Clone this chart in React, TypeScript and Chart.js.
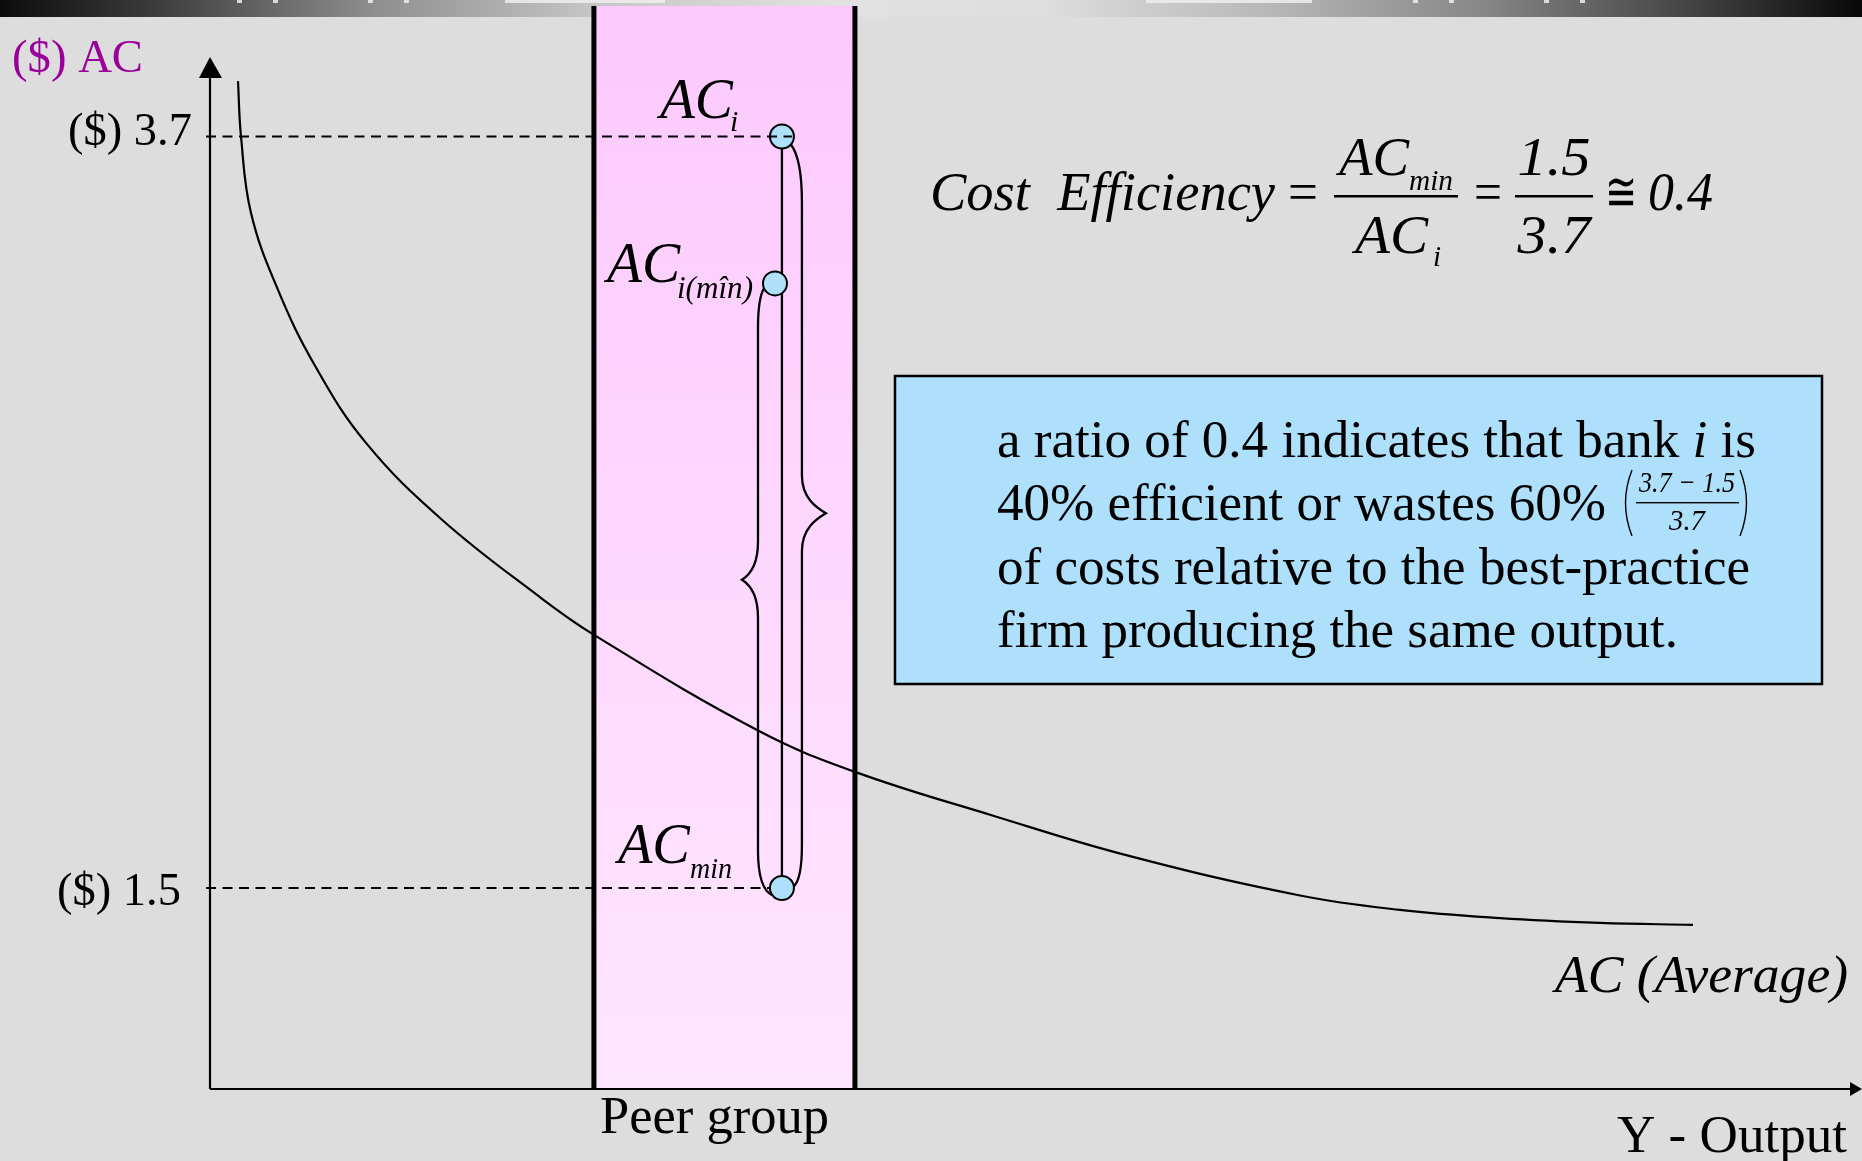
import React, { useEffect, useRef } from 'react';
import { Chart, registerables } from 'chart.js';

Chart.register(...registerables);

// ---- data ----
const outputX = [1.695, 1.877, 2.482, 4.116, 6.356, 9.443, 14.044, 19.794, 23.245, 33.172, 39.044, 47.458, 55.63, 65.981, 72.034, 78.087, 84.14, 89.77];
const averageCost = [3.862, 3.7, 3.476, 3.251, 3.029, 2.803, 2.578, 2.358, 2.241, 1.961, 1.84, 1.711, 1.594, 1.478, 1.436, 1.412, 1.398, 1.392];
const bankMain = ['AC', 'AC', 'AC'];
const bankSub = ['i', 'i(m\u00een)', 'min'];
const bankX = [34.62, 34.2, 34.62];
const bankCost = [3.7, 3.27, 1.5];
const peerGroup = [23.24, 39.04];
const yTickValues = [3.7, 1.5];
const yTickLabels = ['($) 3.7', '($) 1.5'];
const efficiencyRatio = 0.4;

const X_MIN = 0;
const X_MAX = 100;
const Y_MIN = 0.9116;
const Y_MAX = 3.9327;

const SERIF = '"Liberation Serif", "Times New Roman", Times, serif';
const font = (size: number, italic = false) => `${italic ? 'italic ' : ''}${size}px ${SERIF}`;

type Run = { t: string; f: string };

function drawFit(ctx: CanvasRenderingContext2D, runs: Run[], x: number, y: number, targetW: number | null, align: 'left' | 'right' | 'center' = 'left', color = '#000') {
  let w = 0;
  for (const r of runs) {
    ctx.font = r.f;
    w += ctx.measureText(r.t).width;
  }
  const s = targetW ? targetW / w : 1;
  const tw = w * s;
  const sx = align === 'left' ? x : align === 'right' ? x - tw : x - tw / 2;
  ctx.save();
  ctx.translate(sx, y);
  ctx.scale(s, 1);
  ctx.fillStyle = color;
  ctx.textAlign = 'left';
  ctx.textBaseline = 'alphabetic';
  let cx = 0;
  for (const r of runs) {
    ctx.font = r.f;
    ctx.fillText(r.t, cx, 0);
    cx += ctx.measureText(r.t).width;
  }
  ctx.restore();
}

function brace(ctx: CanvasRenderingContext2D, topX: number, topY: number, botX: number, botY: number, sx: number, tx: number, ym: number, rTop: number, rBot: number) {
  const dir = Math.sign(tx - sx);
  ctx.beginPath();
  ctx.moveTo(topX, topY);
  ctx.quadraticCurveTo(sx, topY + rTop * 0.25, sx, topY + rTop);
  ctx.lineTo(sx, ym - 38);
  ctx.bezierCurveTo(sx, ym - 14, tx - dir * 8, ym - 5, tx, ym);
  ctx.bezierCurveTo(tx - dir * 8, ym + 5, sx, ym + 14, sx, ym + 38);
  ctx.lineTo(sx, botY - rBot);
  ctx.quadraticCurveTo(sx, botY - rBot * 0.15, botX, botY);
  ctx.stroke();
}

const diagramPlugin = {
  id: 'diagram',
  beforeDraw(chart: any) {
    const { ctx, width, height, chartArea, scales } = chart;
    const xs = scales.x;
    const ys = scales.y;
    ctx.save();
    ctx.fillStyle = '#DDDDDD';
    ctx.fillRect(0, 0, width, height);

    // top bar
    const g = ctx.createLinearGradient(0, 0, width, 0);
    g.addColorStop(0, '#0c0c0c');
    g.addColorStop(0.08, '#3a3a3a');
    g.addColorStop(0.2, '#8e8e8e');
    g.addColorStop(0.32, '#c6c6c6');
    g.addColorStop(0.45, '#e2e2e2');
    g.addColorStop(0.56, '#dedede');
    g.addColorStop(0.68, '#b8b8b8');
    g.addColorStop(0.8, '#858585');
    g.addColorStop(0.92, '#3c3c3c');
    g.addColorStop(1, '#080808');
    ctx.fillStyle = g;
    ctx.fillRect(0, 0, width, 17);
    ctx.fillStyle = 'rgba(238,238,238,0.85)';
    ctx.fillRect(505, 0, 160, 3);
    ctx.fillRect(1146, 0, 166, 3);
    [237, 273, 368, 404, 1413, 1449, 1544, 1580].forEach((mx) => ctx.fillRect(mx, 0, 5, 3));

    // peer group band
    const bx0 = xs.getPixelForValue(peerGroup[0]);
    const bx1 = xs.getPixelForValue(peerGroup[1]);
    const pg = ctx.createLinearGradient(0, 6, 0, chartArea.bottom);
    pg.addColorStop(0, '#FCC9FD');
    pg.addColorStop(1, '#FFE6FF');
    ctx.fillStyle = pg;
    ctx.fillRect(bx0, 6, bx1 - bx0, chartArea.bottom - 6);
    ctx.strokeStyle = '#000';
    ctx.lineWidth = 5;
    ctx.beginPath();
    ctx.moveTo(bx0, 6);
    ctx.lineTo(bx0, chartArea.bottom);
    ctx.moveTo(bx1, 6);
    ctx.lineTo(bx1, chartArea.bottom);
    ctx.stroke();

    // axes
    const ax = chartArea.left;
    const ay = chartArea.bottom;
    ctx.lineWidth = 2.2;
    ctx.beginPath();
    ctx.moveTo(ax, ay);
    ctx.lineTo(ax, chartArea.top + 18);
    ctx.moveTo(ax, ay);
    ctx.lineTo(chartArea.right - 8, ay);
    ctx.stroke();
    ctx.fillStyle = '#000';
    ctx.beginPath();
    ctx.moveTo(ax, chartArea.top);
    ctx.lineTo(ax - 11, chartArea.top + 21);
    ctx.lineTo(ax + 12, chartArea.top + 21);
    ctx.closePath();
    ctx.fill();
    ctx.beginPath();
    ctx.moveTo(chartArea.right, ay);
    ctx.lineTo(chartArea.right - 12, ay - 7);
    ctx.lineTo(chartArea.right - 12, ay + 7);
    ctx.closePath();
    ctx.fill();

    // vertical connector and braces
    const p1x = xs.getPixelForValue(bankX[0]);
    const p1y = ys.getPixelForValue(bankCost[0]);
    const p2x = xs.getPixelForValue(bankX[1]);
    const p2y = ys.getPixelForValue(bankCost[1]);
    const p3x = xs.getPixelForValue(bankX[2]);
    const p3y = ys.getPixelForValue(bankCost[2]);
    ctx.lineWidth = 2.3;
    ctx.strokeStyle = '#000';
    ctx.beginPath();
    ctx.moveTo(p1x, p1y);
    ctx.lineTo(p3x, p3y);
    ctx.stroke();
    brace(ctx, p1x + 9, p1y + 8, p3x + 11, p3y - 1, p1x + 20, p1x + 44, (p1y + p3y) / 2 + 1, 58, 42);
    brace(ctx, p2x - 11, p2y + 5, p3x - 10, p3y + 7, p2x - 17, p2x - 33, (p2y + p3y) / 2 - 6, 40, 45);
    ctx.restore();
  },
  afterDatasetsDraw(chart: any) {
    const { ctx, chartArea, scales } = chart;
    const xs = scales.x;
    const ys = scales.y;
    ctx.save();
    ctx.strokeStyle = '#000';
    ctx.lineWidth = 2.2;
    ctx.setLineDash([10, 6.5]);
    const ends = [xs.getPixelForValue(bankX[0]) + 10, xs.getPixelForValue(bankX[2]) - 12];
    yTickValues.forEach((v, i) => {
      const py = ys.getPixelForValue(v);
      ctx.beginPath();
      ctx.moveTo(chartArea.left - 4, py);
      ctx.lineTo(ends[i], py);
      ctx.stroke();
    });
    ctx.setLineDash([]);

    const tickOffsets = [8.5, 17];
    const tickRight = [192, 181];
    yTickLabels.forEach((t, i) => {
      const py = ys.getPixelForValue(yTickValues[i]);
      drawFit(ctx, [{ t, f: font(47) }], tickRight[i], py + tickOffsets[i], 124, 'right');
    });

    drawFit(ctx, [{ t: '($) AC', f: font(46) }], 12, 72, 131, 'left', '#990099');
    drawFit(ctx, [{ t: 'Peer group', f: font(52) }], 600, 1133, 229, 'left');
    drawFit(ctx, [{ t: 'Y - Output', f: font(52) }], 1847, 1152, 230, 'right');
    drawFit(ctx, [{ t: 'AC (Average)', f: font(52, true) }], 1848, 992, 293, 'right');

    const pts = bankX.map((x, i) => ({ x: xs.getPixelForValue(x), y: ys.getPixelForValue(bankCost[i]) }));
    drawFit(ctx, [{ t: bankMain[0], f: font(56, true) }], pts[0].x - 122, pts[0].y - 18.5, 73);
    drawFit(ctx, [{ t: bankSub[0], f: font(30, true) }], pts[0].x - 52, pts[0].y - 5, null);
    drawFit(ctx, [{ t: bankMain[1], f: font(56, true) }], pts[1].x - 168, pts[1].y - 1, 73);
    drawFit(ctx, [{ t: bankSub[1], f: font(31, true) }], pts[1].x - 98, pts[1].y + 15, 76);
    drawFit(ctx, [{ t: bankMain[2], f: font(56, true) }], pts[2].x - 164, pts[2].y - 25, 72);
    drawFit(ctx, [{ t: bankSub[2], f: font(29, true) }], pts[2].x - 92, pts[2].y - 10, 42);

    const acMinTxt = bankCost[2].toFixed(1);
    const acITxt = bankCost[0].toFixed(1);
    drawFit(ctx, [{ t: 'Cost  Efficiency', f: font(54, true) }], 930, 210, 345);
    drawFit(ctx, [{ t: '=', f: font(54) }], 1288, 210, 30);
    ctx.fillStyle = '#000';
    ctx.fillRect(1334, 195, 124, 2.5);
    drawFit(ctx, [{ t: 'AC', f: font(55, true) }], 1339, 175, 70);
    drawFit(ctx, [{ t: 'min', f: font(29, true) }], 1409, 190, 44);
    drawFit(ctx, [{ t: 'AC', f: font(55, true) }], 1355, 253, 73);
    drawFit(ctx, [{ t: 'i', f: font(29, true) }], 1433, 266, null);
    drawFit(ctx, [{ t: '=', f: font(54) }], 1474, 210, 28);
    ctx.fillRect(1515, 195, 78, 2.5);
    drawFit(ctx, [{ t: acMinTxt, f: font(54, true) }], 1554, 175, 73, 'center');
    drawFit(ctx, [{ t: acITxt, f: font(54, true) }], 1554, 253, 73, 'center');
    drawFit(ctx, [{ t: '\u2245', f: font(54) }], 1605, 210, 32);
    drawFit(ctx, [{ t: efficiencyRatio.toFixed(1), f: font(54, true) }], 1648, 210, 65);

    ctx.fillStyle = '#AEE0FB';
    ctx.fillRect(895, 376, 927, 308);
    ctx.strokeStyle = '#000';
    ctx.lineWidth = 2.5;
    ctx.strokeRect(895, 376, 927, 308);
    const B = font(52);
    drawFit(ctx, [{ t: 'a ratio of 0.4 indicates that bank ', f: B }, { t: 'i', f: font(52, true) }, { t: ' is', f: B }], 997, 457, 759);
    drawFit(ctx, [{ t: '40% efficient or wastes 60%', f: B }], 997, 520, 609);
    drawFit(ctx, [{ t: 'of costs relative to the best-practice', f: B }], 997, 584, 753);
    drawFit(ctx, [{ t: 'firm producing the same output.', f: B }], 997, 647, 681);
    ctx.lineWidth = 1.4;
    ctx.beginPath();
    ctx.moveTo(1632, 470);
    ctx.quadraticCurveTo(1619, 503, 1632, 536);
    ctx.moveTo(1740, 470);
    ctx.quadraticCurveTo(1753, 503, 1740, 536);
    ctx.stroke();
    ctx.fillStyle = '#000';
    ctx.fillRect(1636, 502, 103, 1.4);
    drawFit(ctx, [{ t: '3.7 \u2212 1.5', f: font(30, true) }], 1687, 492, 96, 'center');
    drawFit(ctx, [{ t: '3.7', f: font(30, true) }], 1687, 530, 36, 'center');
    ctx.restore();
  },
};

export default function App() {
  const ref = useRef<HTMLCanvasElement | null>(null);
  useEffect(() => {
    if (!ref.current) return;
    const chart = new Chart(ref.current, {
      type: 'scatter',
      data: {
        datasets: [
          {
            label: 'Banks',
            data: bankX.map((x, i) => ({ x, y: bankCost[i] })),
            pointRadius: 12,
            pointBackgroundColor: '#AEE0FA',
            pointBorderColor: '#000',
            pointBorderWidth: 2,
            showLine: false,
            clip: false,
          } as any,
          {
            label: 'AC (Average)',
            data: outputX.map((x, i) => ({ x, y: averageCost[i] })),
            showLine: true,
            borderColor: '#000',
            borderWidth: 2.2,
            pointRadius: 0,
            tension: 0.4,
            fill: false,
            clip: false,
          } as any,
        ],
      },
      options: {
        responsive: false,
        animation: false,
        events: [],
        layout: { autoPadding: false, padding: { left: 210, top: 57, right: 0, bottom: 72 } },
        scales: {
          x: { type: 'linear', min: X_MIN, max: X_MAX, display: false },
          y: { type: 'linear', min: Y_MIN, max: Y_MAX, display: false },
        },
        plugins: { legend: { display: false }, tooltip: { enabled: false } },
      } as any,
      plugins: [diagramPlugin],
    });
    return () => chart.destroy();
  }, []);
  return (
    <div style={{ position: 'fixed', left: 0, top: 0, width: 1862, height: 1161, overflow: 'hidden' }}>
      <canvas ref={ref} width={1862} height={1161} style={{ display: 'block', width: 1862, height: 1161 }} />
    </div>
  );
}
